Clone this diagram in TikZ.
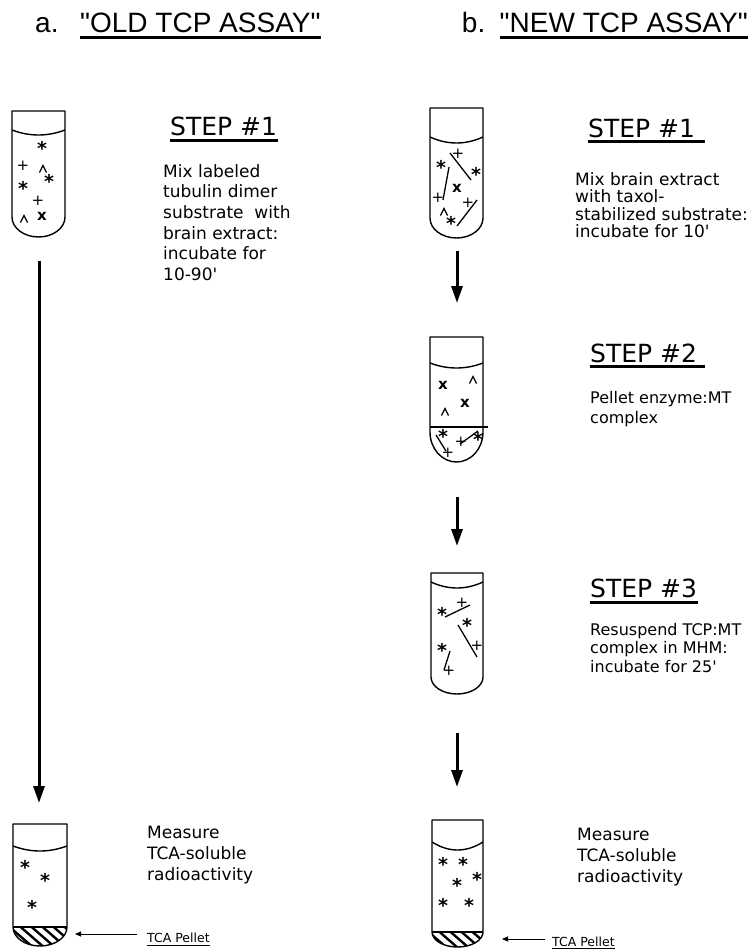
\documentclass[tikz,border=0pt]{standalone}
\usepackage{fontspec}
\usetikzlibrary{arrows.meta}
\newfontfamily\bodyfont{DejaVu Sans}
\newfontfamily\titlefont{Liberation Sans}
\newcommand{\tubeshape}[7]{%
  \draw[tube] (#1,#3) -- (#2,#3) -- (#2,#6)
    arc[start angle=0,end angle=180,x radius={(#2-#1)/2},y radius={#7-#6}] -- cycle;
  \draw[tube] (#1,#4) .. controls ({#1+(#2-#1)/3},{#5+(#5-#4)/3}) and ({#2-(#2-#1)/3},{#5+(#5-#4)/3}) .. (#2,#4);
}
% #1 L, #2 R, #3 hatch top, #4 bottom straight end, #5 bottom
\newcommand{\hatchbottom}[5]{%
  \begin{scope}
    \clip (#1,#3) -- (#2,#3) -- (#2,#4)
      arc[start angle=0,end angle=180,x radius={(#2-#1)/2},y radius={#5-#4}] -- cycle;
    \foreach \k in {-30,-19,...,60} {\draw[hatchline] ({#1+\k},{#3-4}) -- ++(30,26);}
  \end{scope}
  \draw[tube] (#1,#3) -- (#2,#3);
}
\newcommand{\caretsym}[2]{\draw[caretline] ({#1-3.5},{#2+3.5}) -- (#1,{#2-3.5}) -- ({#1+3.5},{#2+3.5});}
\begin{document}
\begin{tikzpicture}[x=1pt,y=-1pt,
  tube/.style={line width=1.4pt,line join=round},
  hatchline/.style={line width=2.4pt},
  caretline/.style={line width=1.2pt},
  bigarrow/.style={line width=3pt,-{Triangle[length=17pt,width=11pt]}},
  smallarrow/.style={line width=1pt,-{Triangle[length=6pt,width=5pt]}},
  mt/.style={line width=1.3pt},
  sym/.style={inner sep=0pt,font=\bodyfont\fontsize{15}{15}\selectfont},
  bsym/.style={inner sep=0pt,font=\bodyfont\bfseries\fontsize{15}{15}\selectfont},
  star/.style={inner sep=0pt,font=\bodyfont\bfseries\fontsize{19}{19}\selectfont},
  ttl/.style={anchor=base west,inner sep=0pt,font=\titlefont\fontsize{28}{30}\selectfont},
  steptitle/.style={anchor=base west,inner sep=0pt,font=\bodyfont\fontsize{25}{30}\selectfont},
  body/.style={anchor=base west,inner sep=0pt,align=left},
  uline/.style={line width=3pt},
  thinline/.style={line width=1pt},
  small/.style={anchor=base west,inner sep=0pt,font=\bodyfont\fontsize{12.5}{14}\selectfont}]
\useasboundingbox (0,0) rectangle (752,951);

% ---------- titles ----------
\node[ttl] (ta) at (35,32) {a.};
\node[ttl] (tat) at (80,32) {"OLD TCP ASSAY"};
\draw[uline] ([yshift=-5pt]tat.base west) -- ([yshift=-5pt]tat.base east);
\node[ttl,anchor=base east] (tbt) at (748,32) {"NEW TCP ASSAY"};
\node[ttl,anchor=base east] (tb) at ([xshift=-14pt]tbt.base west) {b.};
\draw[uline] ([yshift=-5pt]tbt.base west) -- ([yshift=-5pt]tbt.base east);

% ---------- tubes ----------
\tubeshape{12}{65}{111}{130}{135}{217}{237}
\tubeshape{430}{483}{108}{137}{143}{218}{238}
\tubeshape{430}{483}{337}{363}{368}{432}{462}
\draw[tube] (430,427) -- (488,427);
\tubeshape{431}{483}{573}{582}{588}{677}{694}
\tubeshape{13}{67}{824}{846}{851}{927}{946}
\hatchbottom{13}{67}{927}{927}{946}
\tubeshape{432}{483}{820}{842}{850}{932}{947}
\hatchbottom{432}{483}{932}{932}{947}

% ---------- tube contents ----------
% old step 1
\foreach \p [count=\i] in {(42,148),(49,181),(23,188)} \node[star] (aS\i) at \p {*};
\foreach \p [count=\i] in {(23,166),(38,201)} \node[sym] (aP\i) at \p {+};
\caretsym{43}{169}
\caretsym{24}{219}
\node[bsym] (aX1) at (42,216) {x};
% new step 1
\draw[mt] (450,153) -- (471,180);
\draw[mt] (449,167) -- (443,200);
\draw[mt] (477,200) -- (457,226);
\foreach \p [count=\i] in {(458,154),(438,198),(468,203)} \node[sym] (bP\i) at \p {+};
\foreach \p [count=\i] in {(476,174),(441,167),(451,223)} \node[star] (bS\i) at \p {*};
\node[bsym] (bX1) at (457,188) {x};
\caretsym{444}{212}
% new step 2
\node[bsym] (cX1) at (443,385) {x};
\node[bsym] (cX2) at (465,403) {x};
\caretsym{473}{380}
\caretsym{445}{412}
\draw[mt] (436,435) -- (446,451);
\draw[mt] (460,444) -- (478,431);
\node[star] (cS1) at (443,436) {*};
\node[star] (cS2) at (478,439) {*};
\node[sym] (cP1) at (448,453) {+};
\node[sym] (cP2) at (461,442) {+};
% new step 3
\draw[mt] (445,617) -- (470,605);
\draw[mt] (458,625) -- (477,657);
\draw[mt] (450,651) -- (444,670);
\foreach \p [count=\i] in {(442,614),(467,625),(442,650)} \node[star] (dS\i) at \p {*};
\foreach \p [count=\i] in {(462,603),(477,646),(449,671)} \node[sym] (dP\i) at \p {+};
% old final
\foreach \p [count=\i] in {(25,867),(45,880),(32,907)} \node[star] (eS\i) at \p {*};
% new final
\foreach \p [count=\i] in {(443,864),(463,864),(477,879),(457,885),(443,905),(469,905)} \node[star] (fS\i) at \p {*};

% ---------- arrows ----------
\coordinate (o1) at (39,261);
\coordinate (o2) at (39,803);
\draw[bigarrow] (o1) -- (o2);
\coordinate (n1a) at (457,251);
\coordinate (n1b) at (457,303);
\draw[bigarrow] (n1a) -- (n1b);
\coordinate (n2a) at (457,497);
\coordinate (n2b) at (457,546);
\draw[bigarrow] (n2a) -- (n2b);
\coordinate (n3a) at (457,733);
\coordinate (n3b) at (457,787);
\draw[bigarrow] (n3a) -- (n3b);

% ---------- step texts (anchored at the baseline of the last line) ----------
\node[steptitle] (s1a) at (170,135) {STEP \#1};
\draw[uline] (170,140) -- (278,140);
\node[body,font=\bodyfont\fontsize{17}{20.7}\selectfont] (x1a) at (163,280.5)
  {Mix labeled\\tubulin dimer\\substrate\ \ with\\brain extract:\\incubate for\\10-90'};

\node[steptitle] (s1b) at (588,137) {STEP \#1};
\draw[uline] (588,141) -- (705,141);
\node[body,font=\bodyfont\fontsize{17}{17.5}\selectfont] (x1b) at (575,237.5)
  {Mix brain extract\\with taxol-\\stabilized substrate:\\incubate for 10'};

\node[steptitle] (s2b) at (590,362) {STEP \#2};
\draw[uline] (590,366) -- (705,366);
\node[body,font=\bodyfont\fontsize{16}{20}\selectfont] (x2b) at (590,423)
  {Pellet enzyme:MT\\complex};

\node[steptitle] (s3b) at (590,597) {STEP \#3};
\draw[uline] (590,602) -- (698,602);
\node[body,font=\bodyfont\fontsize{16}{18.5}\selectfont] (x3b) at (590,672)
  {Resuspend TCP:MT\\complex in MHM:\\incubate for 25'};

\node[body,font=\bodyfont\fontsize{17}{21}\selectfont] (ma) at (147,880)
  {Measure\\TCA-soluble\\radioactivity};
\node[body,font=\bodyfont\fontsize{17}{21}\selectfont] (mb) at (577,882)
  {Measure\\TCA-soluble\\radioactivity};

% ---------- TCA pellet labels ----------
\node[small] (pa) at (147,942) {TCA Pellet};
\draw[thinline] ([yshift=-3pt]pa.base west) -- ([yshift=-3pt]pa.base east);
\coordinate (pa1) at (137,934);
\coordinate (pa2) at (75,934);
\draw[smallarrow] (pa1) -- (pa2);
\node[small] (pb) at (552,946) {TCA Pellet};
\draw[thinline] ([yshift=-2.5pt]pb.base west) -- ([yshift=-2.5pt]pb.base east);
\coordinate (pb1) at (545,939);
\coordinate (pb2) at (502,939);
\draw[smallarrow] (pb1) -- (pb2);
\end{tikzpicture}
\end{document}
